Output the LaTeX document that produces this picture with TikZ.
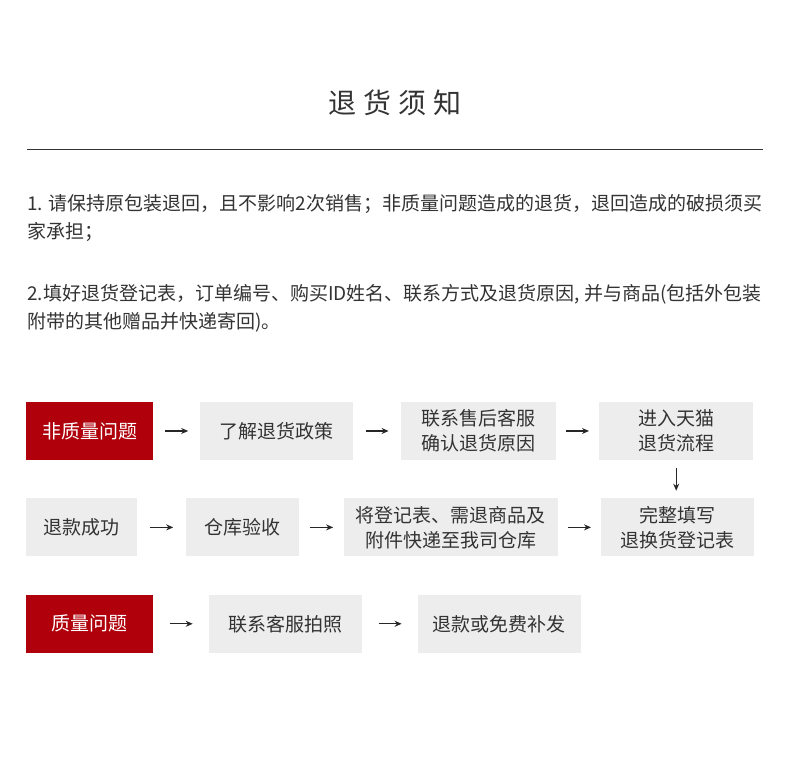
\documentclass[tikz,border=0pt]{standalone}
\usepackage{fontspec}
\setmainfont{Noto Sans CJK SC}
\usepackage{xcolor}
\usetikzlibrary{arrows.meta,positioning}
\definecolor{tuihong}{HTML}{AF000B}
\definecolor{tuihui}{HTML}{EDEDED}
\definecolor{tuiwen}{HTML}{333333}

\begin{document}
\begin{tikzpicture}[
  x=1pt, y=1pt,
  every node/.style={font=\fontsize{19}{25}\selectfont, text=tuiwen, inner sep=0pt},
  hongkuang/.style={rectangle, fill=tuihong, text=white, minimum height=58pt, minimum width=#1, align=center},
  huikuang/.style={rectangle, fill=tuihui, minimum height=58pt, minimum width=#1, align=center},
  hang/.style={anchor=west},
  jiantou/.style={-{Stealth[length=7pt,width=6pt]}, line width=1.3pt, draw=black!85, shorten <=#1, shorten >=#1}
]
  \useasboundingbox[fill=white] (0,0) rectangle (790,773);

  \node[font=\fontsize{28}{34}\selectfont] (biaoti) at (395,670) {退\hspace{7pt}货\hspace{7pt}须\hspace{7pt}知};
  \coordinate (xianzuo) at (27,623);
  \coordinate (xianyou) at (763,623);
  \draw[tuiwen, line width=1pt] (xianzuo) -- (xianyou);

  \node[hang] (tiao1a) at (27,569) {1. 请保持原包装退回，且不影响2次销售；非质量问题造成的退货，退回造成的破损须买};
  \node[hang] (tiao1b) at (27,541) {家承担；};
  \node[hang] (tiao2a) at (27,479) {2.填好退货登记表，订单编号、购买ID姓名、联系方式及退货原因, 并与商品(包括外包装};
  \node[hang] (tiao2b) at (27,451) {附带的其他赠品并快递寄回)。};

  \node[hongkuang=127pt] (fzl) at (89.5,342) {非质量问题};
  \node[huikuang=153pt, right=47pt of fzl] (ljzc) {了解退货政策};
  \node[huikuang=155pt, right=47pt of ljzc] (lxsh) {联系售后客服\\确认退货原因};
  \node[huikuang=154pt, right=43pt of lxsh] (jrtm) {进入天猫\\退货流程};

  \node[huikuang=111pt, below=38pt of fzl.south west, anchor=north west] (tkcg) {退款成功};
  \node[huikuang=113pt, right=49pt of tkcg] (ckys) {仓库验收};
  \node[huikuang=214pt, right=44pt of ckys] (djb) {将登记表、需退商品及\\附件快递至我司仓库};
  \node[huikuang=153pt, right=43pt of djb] (wztx) {完整填写\\退换货登记表};

  \node[hongkuang=127pt, below=38pt of tkcg.south west, anchor=north west] (zlwt) {质量问题};
  \node[huikuang=153pt, right=56pt of zlwt] (lxkf) {联系客服拍照};
  \node[huikuang=163pt, right=55pt of lxkf] (tkbf) {退款或免费补发};

  \draw[jiantou=12pt] (fzl) -- (ljzc);
  \draw[jiantou=12pt] (ljzc) -- (lxsh);
  \draw[jiantou=10pt] (lxsh) -- (jrtm);
  \draw[jiantou=7.5pt] (jrtm.south) -- (jrtm.south |- wztx.north);
  \draw[jiantou=13pt] (tkcg) -- (ckys);
  \draw[jiantou=10.5pt] (ckys) -- (djb);
  \draw[jiantou=10pt] (djb) -- (wztx);
  \draw[jiantou=16.5pt] (zlwt) -- (lxkf);
  \draw[jiantou=16pt] (lxkf) -- (tkbf);
\end{tikzpicture}
\end{document}
